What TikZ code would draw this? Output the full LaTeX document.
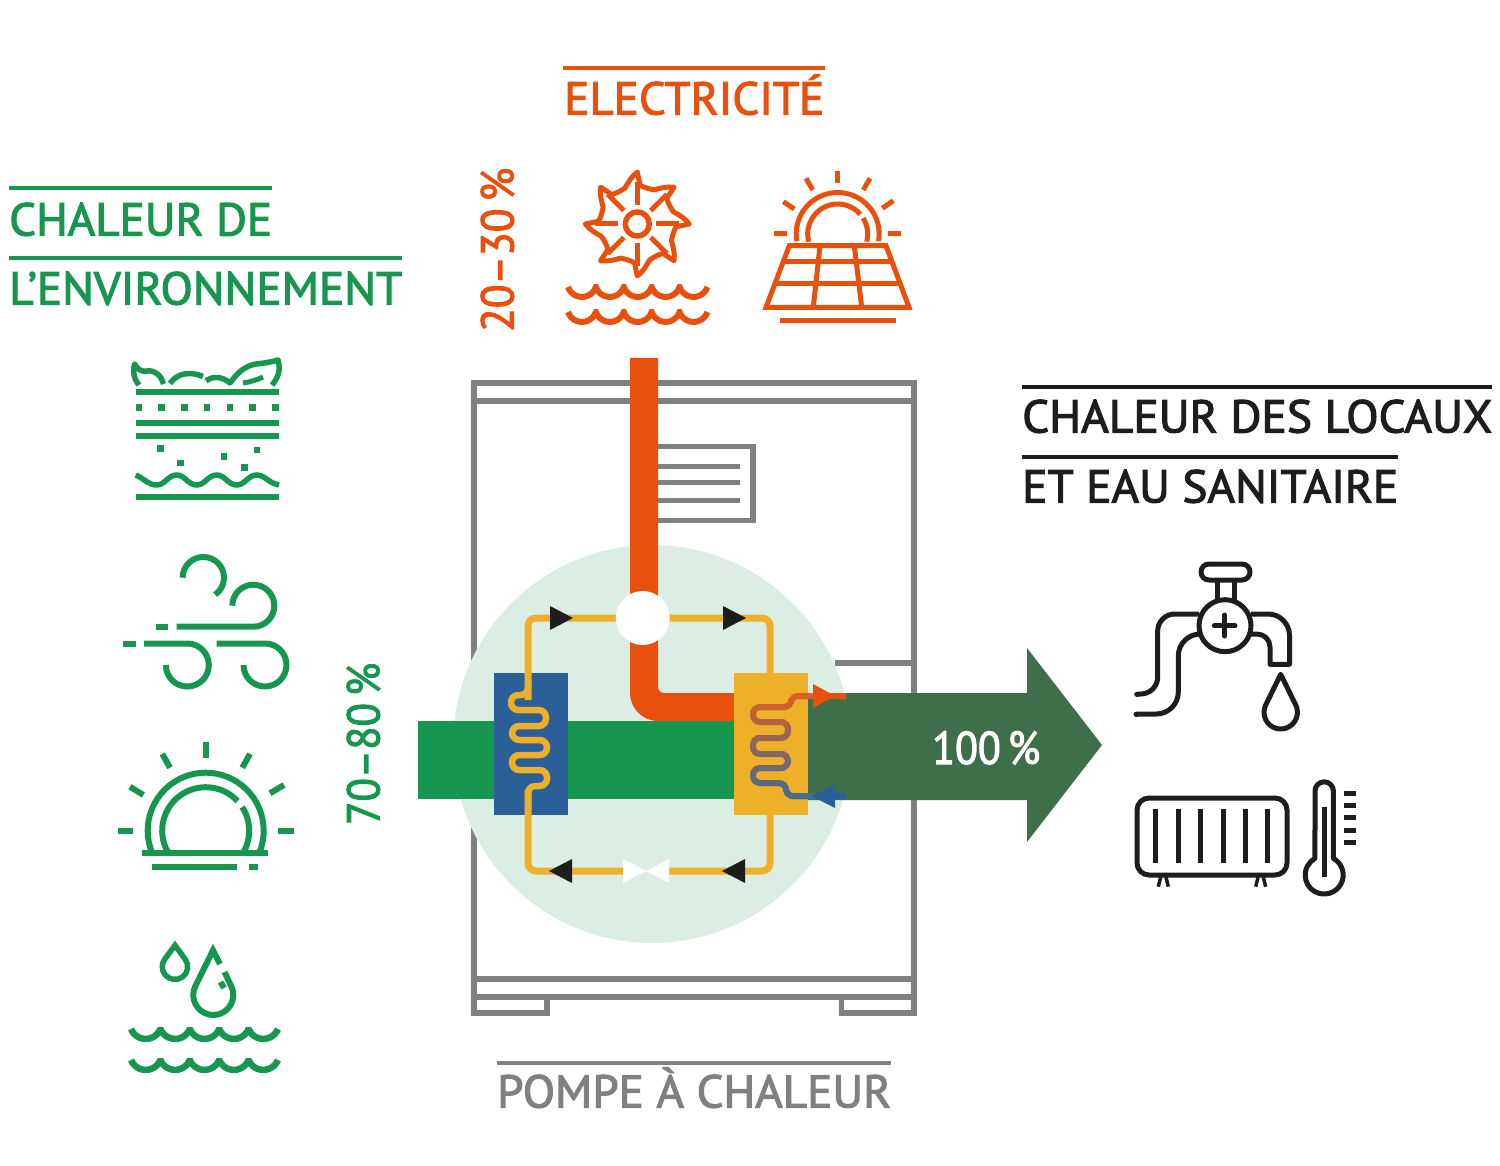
\documentclass[tikz,border=0pt]{standalone}
\usepackage{fontspec}
\usepackage{graphicx}
\newfontfamily\din[FakeBold=2.4]{PT Sans}
\definecolor{cgreen}{HTML}{16964E}
\definecolor{corange}{HTML}{E8500E}
\definecolor{cgray}{HTML}{808080}
\definecolor{cblack}{HTML}{1D1D1B}
\definecolor{cmint}{HTML}{DCEEE3}
\definecolor{cdark}{HTML}{3E6F4A}
\definecolor{cblue}{HTML}{2A6097}
\definecolor{cyell}{HTML}{EFB029}
\definecolor{coilA}{HTML}{DF6020}
\definecolor{coilB}{HTML}{3F6C92}
\newcommand{\fitw}[2]{\resizebox{#1pt}{\height}{#2}}
% arc with centre, radius, start and end angle (screen angles: 90 = down)
\newcommand{\carc}[6][]{\draw[#1] (#2,#3) ++(#5:#4) arc[start angle=#5,end angle=#6,radius=#4];}
% style, x0, top (clip), cusp y, start angle, end angle, radius, x end
\newcommand{\wavesrow}[8]{\begin{scope}\clip (#2-6,#3) rectangle (#8+6,#3+30);
  \draw[#1,line join=miter] (#2,#4) foreach \i in {1,...,5}{arc[start angle=#5,end angle=#6,radius=#7]};\end{scope}}
\usetikzlibrary{calc}
\tikzset{
  lbl/.style={inner sep=0pt,anchor=base west,font=\din\fontsize{46}{46}\selectfont},
  rule/.style={line width=4pt},
  icG/.style={draw=cgreen,line width=6pt},
  icO/.style={draw=corange,line width=5pt},
  icK/.style={draw=cblack,line width=5pt,line cap=round,line join=round},
  cab/.style={draw=cgray,line width=5.3pt},
  hx/.style={draw=none,minimum width=74pt,minimum height=142pt,inner sep=0pt},
  loopline/.style={draw=cyell,line width=7pt},
  tri/.style={fill=cblack,draw=none},
}
\begin{document}
\begin{tikzpicture}[x=1pt,y=-1pt]
\useasboundingbox (0,0) rectangle (1500,1166);
% ---------- headings
\draw[rule,cgreen] (9,188) -- (272,188);
\draw[rule,cgreen] (9,258) -- (402,258);
\draw[rule,corange] (563,68) -- (825,68);
\draw[rule,cblack] (1022,387) -- (1492,387);
\draw[rule,cblack] (1022,457) -- (1398,457);
\draw[rule,cgray] (497,1063) -- (891,1063);
\node[lbl,text=cgreen] (t1) at (9,235.5) {\fitw{263}{CHALEUR DE}};
\node[lbl,text=cgreen] (t2) at (9,304.5) {\fitw{393}{L’ENVIRONNEMENT}};
\node[lbl,text=corange] (t3) at (564,114.5) {\fitw{260}{ELECTRICITÉ}};
\node[lbl,text=cblack] (t4) at (1022,432.5) {\fitw{470}{CHALEUR DES LOCAUX}};
\node[lbl,text=cblack] (t5) at (1022,502.5) {\fitw{376}{ET EAU SANITAIRE}};
\node[lbl,text=cgray] (t6) at (497,1107.5) {\fitw{394}{POMPE À CHALEUR}};
\node[lbl,text=corange,rotate=90] (p1) at (513.5,332) {\fitw{164}{20–30\,\%}};
\node[lbl,text=cgreen,rotate=90] (p2) at (379.5,825) {\fitw{162}{70–80\,\%}};
% ---------- heat pump cabinet
\draw[cab] (474,383) rectangle (914,997);
\draw[cab] (474,997) rectangle (547,1013);
\draw[cab] (841.5,997) rectangle (914,1013);
\draw[cab] (474,401) -- (914,401);
\draw[cab] (474,979) -- (914,979);
\draw[cab] (835,663) -- (914,663);
\draw[cab] (650,446.3) -- (753,446.3) -- (753,520.3) -- (650,520.3);
\draw[cab] (650,466.3) -- (740,466.3);
\draw[cab] (650,482.3) -- (740,482.3);
\draw[cab] (650,500.3) -- (740,500.3);
\node[circle,fill=cmint,draw=none,minimum size=398pt,inner sep=0pt] (zone) at (652,744) {};
% ---------- flows
\fill[cgreen] (418,721) rectangle (740,799);
\fill[corange] (630,358) -- (658,358) -- (658,687) arc[start angle=180,end angle=90,radius=6] -- (736,693) -- (736,721) -- (658,721) arc[start angle=90,end angle=180,radius=28] -- cycle;
\fill[cdark] (800,693) -- (1027,693) -- (1027,648) -- (1102,745) -- (1027,842) -- (1027,800) -- (800,800) -- cycle;
\node[lbl,text=white] (p3) at (932,764) {\fitw{108}{100\,\%}};
% ---------- refrigerant loop
\node[hx,fill=cblue] (evap) at (531,744) {};
\node[hx,fill=cyell] (cond) at (771,744) {};
\coordinate (lt) at (528,618);
\coordinate (rt) at (770,618);
\coordinate (lb) at (528,871);
\coordinate (rb) at (770,871);
\coordinate (vl) at (623,871);
\coordinate (vr) at (669,871);
\draw[loopline,rounded corners=8pt] (528,700) -- (lt) -- (rt) -- (770,700);
\draw[loopline,rounded corners=8pt] (528,790) -- (lb) -- (vl);
\draw[loopline,rounded corners=8pt] (vr) -- (rb) -- (770,790);
\draw[loopline,line width=6.5pt,rounded corners=7.3pt,line join=round]
  (528,680) -- (528,695) -- (511,695) -- (511,710) -- (546,710) -- (546,726) -- (512,726) -- (512,740)
  -- (547,740) -- (547,755) -- (512,755) -- (512,770) -- (547,770) -- (547,786) -- (528,786) -- (528,810);
\node[circle,fill=white,draw=none,minimum size=54pt,inner sep=0pt] (comp) at (642.7,618) {};
\fill[white] (623,859) -- (646,871) -- (669,859) -- (669,883) -- (646,871) -- (623,883) -- cycle;
\fill[tri] (550,606) -- (573,618) -- (550,630) -- cycle;
\fill[tri] (723,606) -- (746,618) -- (723,630) -- cycle;
\fill[tri] (572,859) -- (549,871) -- (572,883) -- cycle;
\fill[tri] (745,859) -- (722,871) -- (745,883) -- cycle;
% secondary coil with a top-to-bottom colour change
\newcommand{\coilpath}{(846,696) -- (791,696) -- (791,707) -- (753,707) -- (753,722) -- (788,722) -- (788,738) -- (753,738) -- (753,754) -- (788,754) -- (788,768) -- (753,768) -- (753,783) -- (786,783) -- (786,796) -- (846,796)}
\foreach \i in {0,...,27}{
  \pgfmathsetmacro\yy{690+4*\i}
  \pgfmathtruncatemacro\mm{100-100*\i/27}
  \begin{scope}
    \clip (730,\yy) rectangle (850,\yy+5);
    \draw[draw=coilA!\mm!coilB,line width=6pt,rounded corners=7pt] \coilpath;
  \end{scope}
}
\fill[corange] (813,684) -- (835,696) -- (813,708) -- cycle;
\draw[corange,line width=6pt] (815,696) -- (846,696);
\fill[cblue] (835,785) -- (811,796) -- (835,808) -- cycle;
\draw[cblue,line width=6pt] (815,796) -- (846,796);
% ---------- water wheel
\begin{scope}[shift={(637.3,224)}]
  \draw[corange,line width=5.5pt] (0,0) circle[radius=12];
  \draw[corange,line width=5pt,line join=round]
    (0:52) foreach \a in {0,-45,...,-315}{
      .. controls (\a-7:48) and (\a-13:42) .. (\a-19:38)
      .. controls (\a-27:37) and (\a-34:37) .. (\a-41:39)
      -- (\a-45:52)
    } -- cycle;
  \foreach \a in {0,45,...,315}{\draw[corange,line width=5pt] (\a:19) -- (\a:42);}
\end{scope}
\wavesrow{icO,line width=6pt}{568}{285}{287}{161}{19}{14.75}{707}
\wavesrow{icO,line width=6pt}{568}{310}{312}{161}{19}{14.75}{707}
% ---------- solar panel
\carc[icO]{837.7}{234}{41.5}{170}{370}
\carc[icO]{837.7}{234}{30}{165}{319}
\carc[icO]{837.7}{234}{30}{328}{375}
\draw[icO] (837.7,170.7) -- (837.7,183.3);
\draw[icO] (806,178.3) -- (812.7,190);
\draw[icO] (870,178.3) -- (863.3,190);
\draw[icO] (783.3,201.7) -- (794.3,209);
\draw[icO] (893.3,200.7) -- (882.3,208.3);
\draw[icO] (774.3,233.3) -- (786.7,233.3);
\draw[icO] (888.3,233.3) -- (900.7,233.3);
\draw[icO] (789.3,245.7) -- (886,245.7) -- (909,307.3) -- (766,307.3) -- cycle;
\draw[icO] (783.2,261.7) -- (892,261.7);
\draw[icO] (774.9,284) -- (900.3,284);
\draw[icO] (820,245.7) -- (813.3,307.3);
\draw[icO] (854.3,245.7) -- (861.7,307.3);
\draw[icO] (780,320.3) -- (895.7,320.3);
% ---------- soil icon
\draw[icG] (135.7,392.3) -- (279,392.3);
\draw[icG] (135.7,422.7) -- (279,422.7);
\draw[icG] (135.7,436.3) -- (279,436.3);
\draw[icG] (135.7,496.7) -- (279,496.7);
\foreach \x/\y in {139/407.7,161.7/407.7,184.3/407.7,207/407.7,230/407.7,252.7/407.7,275.7/407.7,160.7/448.7,180.7/463,224/456.3,244.7/467.3,257/450}
  {\fill[cgreen] (\x-3.4,\y-3.4) rectangle (\x+3.4,\y+3.4);}
\draw[icG,line width=5.5pt] (135.7,475) .. controls (145,479) and (148,485) .. (156.7,485)
  .. controls (165,485) and (168,475) .. (176.7,475) .. controls (185,475) and (188,485) .. (196.7,485)
  .. controls (205,485) and (208,475) .. (216.7,475) .. controls (225,475) and (228,485) .. (236.7,485)
  .. controls (245,485) and (248,475) .. (256.7,475) .. controls (265,475) and (268,483) .. (279,485);
\draw[icG,line width=5.5pt,line join=round] (139,385) .. controls (133,378) and (133,370) .. (134.5,364)
  .. controls (138,370) and (142,372) .. (147,371) .. controls (155,370) and (161,375) .. (163.5,384);
\draw[icG,line width=5.5pt] (170,383.5) .. controls (177,373) and (190,371) .. (203,376.5);
\draw[icG,line width=5.5pt,line join=round] (206,381) .. controls (212,376) and (222,376) .. (230,383)
  .. controls (238,372) and (245,366) .. (256,364) .. controls (265,363) and (272,362) .. (278,360)
  .. controls (281,370) and (278,378) .. (272,385);
\draw[icG,line width=5pt] (243,383) .. controls (250,382) and (257,380) .. (263,377);
% ---------- wind icon
\carc[icG]{203.3}{577.7}{20.7}{180}{415}
\draw[icG] (232.3,605.7) arc[start angle=180,end angle=450,radius=21] -- (176.7,626.7);
\draw[icG] (155.7,626.7) -- (168.3,626.7);
\draw[icG] (144,643.5) -- (187.3,643.5) arc[start angle=270,end angle=540,radius=21.5];
\draw[icG] (123.3,643.5) -- (136,643.5);
\draw[icG] (216.7,643.5) -- (265,643.5) arc[start angle=270,end angle=540,radius=21.5];
% ---------- sun icon
\carc[icG]{205.7}{830.7}{58}{157}{383}
\carc[icG]{205.7}{830.7}{43.5}{150}{317}
\carc[icG]{205.7}{830.7}{43.5}{327}{390}
\draw[icG] (142.3,853.3) -- (268.3,853.3);
\draw[icG] (151.7,867.3) -- (237.3,867.3);
\draw[icG] (249,867.3) -- (258.3,867.3);
\draw[icG] (117.7,830.7) -- (133.3,830.7);
\draw[icG] (278.3,830.7) -- (294,830.7);
\draw[icG] (205.7,742.3) -- (205.7,757.7);
\draw[icG] (162.3,754) -- (170,767.7);
\draw[icG] (250,754) -- (242.3,767.7);
\draw[icG] (130,786.7) -- (143.3,795);
\draw[icG] (284,785) -- (270,793.3);
% ---------- water drops icon
\draw[icG,line width=5.5pt,line join=miter] (175,945.3) -- (185.2,959.2) arc[start angle=323.6,end angle=576.4,radius=12.7] -- cycle;
\draw[icG,line join=miter] (220,964) -- (213,950.4) -- (195.4,986) arc[start angle=206.6,end angle=-26.6,radius=20] -- (224.5,972);
\draw[icG] (220.5,982) -- (224,988);
\wavesrow{icG,line width=6.5pt}{131}{1027.3}{1029}{158}{22}{15.85}{277}
\wavesrow{icG,line width=6.5pt}{131}{1058.3}{1060}{158}{22}{15.85}{277}
% ---------- tap icon
\draw[icK] (1209,564) -- (1242,564) arc[start angle=270,end angle=450,radius=8] -- (1209,580) arc[start angle=90,end angle=270,radius=8] -- cycle;
\draw[icK,line cap=butt] (1217.3,580) -- (1217.3,600);
\draw[icK,line cap=butt] (1234,580) -- (1234,600);
\draw[icK] (1225,625.7) circle[radius=26];
\draw[icK] (1214.3,625.7) -- (1235,625.7);
\draw[icK] (1224.7,615) -- (1224.7,636);
\draw[icK,rounded corners=17pt,line cap=butt] (1199,614) -- (1157.7,614) -- (1157.7,694) -- (1136.7,694);
\draw[icK,rounded corners=22pt,line cap=butt] (1199,634) -- (1178.3,634) -- (1178.3,714) -- (1136,714);
\draw[icK,line cap=round] (1136.7,694) -- (1137,694);
\draw[icK,line cap=round] (1136,714) -- (1136.3,714);
\draw[icK,line cap=butt] (1251,614) -- (1268,614) arc[start angle=270,end angle=360,radius=21.5] -- (1289.5,664.3) -- (1270,664.3) -- (1270,647) arc[start angle=360,end angle=270,radius=13] -- (1251,634);
\draw[icK] (1280.7,674.3) -- ($(1280.7,712.3)+(333.9:16.7)$) arc[start angle=333.9,end angle=566.1,radius=16.7] -- cycle;
% ---------- radiator icon
\draw[icK,rounded corners=12pt] (1137,798) rectangle (1287,875);
\foreach \x in {1155.7,1178.3,1200.7,1223,1245.3,1267.7}{\draw[icK,line cap=butt] (\x,809.3) -- (\x,863.3);}
\foreach \x in {1163.3,1260.7}{
  \draw[icK,line width=3.5pt,line cap=butt] (\x-2.6,877) -- (\x-5,886.7);
  \draw[icK,line width=3.5pt,line cap=butt] (\x+2.6,877) -- (\x+5,886.7);
}
% ---------- thermometer icon
\draw[icK] (1315,791) arc[start angle=180,end angle=360,radius=9.2] -- (1333.4,858.4) arc[start angle=299,end angle=601,radius=19] -- cycle;
\draw[icK,line cap=butt] (1324,806.7) -- (1324,876.7);
\foreach \y in {793.3,805.7,817.7,830,842.3}{\draw[icK,line cap=butt] (1344,\y) -- (1356,\y);}
\end{tikzpicture}
\end{document}
